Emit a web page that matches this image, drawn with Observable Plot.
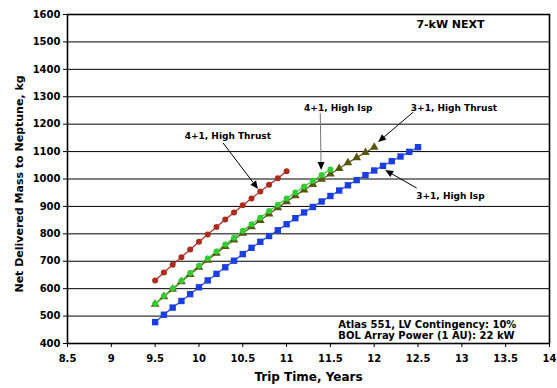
<!DOCTYPE html>
<html>
<head>
<meta charset="utf-8">
<script src="https://cdn.jsdelivr.net/npm/d3@7"></script>
<script src="https://cdn.jsdelivr.net/npm/@observablehq/plot@0.6"></script>
<style>
  body { margin: 0; background: #fff; }
  #chart svg { display: block; }
</style>
</head>
<body>
<div id="chart"></div>
<script>
// Trip time grid (years) shared by all four cases
const tripTime = [9.5, 9.6, 9.7, 9.8, 9.9, 10.0, 10.1, 10.2, 10.3, 10.4, 10.5,
  10.6, 10.7, 10.8, 10.9, 11.0, 11.1, 11.2, 11.3, 11.4, 11.5, 11.6, 11.7, 11.8,
  11.9, 12.0, 12.1, 12.2, 12.3, 12.4, 12.5];

// Net delivered mass (kg) per case
const highThrust41 = [630, 659, 687, 715, 743, 771, 798, 825, 852, 878, 904, 929,
  954, 979, 1003, 1028];
const highIsp41 = [545, 573, 601, 629, 657, 684, 710, 736, 761, 786, 811, 835, 859,
  883, 906, 929, 951, 973, 994, 1015, 1035];
const highThrust31 = [543, 571, 598, 625, 652, 678, 704, 729, 754, 778, 802, 826,
  849, 872, 895, 917, 939, 960, 980, 999, 1018, 1038, 1059, 1078, 1097, 1116];
const highIsp31 = [478, 505, 531, 555, 580, 605, 630, 654, 678, 702, 726, 749, 771,
  792, 813, 835, 857, 878, 898, 918, 938, 958, 977, 996, 1014, 1031, 1048, 1065,
  1082, 1099, 1116];

const seriesNames = ["3+1, High Isp", "3+1, High Thrust", "4+1, High Isp", "4+1, High Thrust"];
const seriesValues = [highIsp31, highThrust31, highIsp41, highThrust41];

// Axis ticks
const xTicks = [8.5, 9, 9.5, 10, 10.5, 11, 11.5, 12, 12.5, 13, 13.5, 14];
const yTicks = [400, 500, 600, 700, 800, 900, 1000, 1100, 1200, 1300, 1400, 1500, 1600];

// Callout labels and arrows, in data units
const callouts = [
  {text: "4+1, High Thrust", x: 10.33, y: 1158},
  {text: "4+1, High Isp", x: 11.59, y: 1260},
  {text: "3+1, High Thrust", x: 12.91, y: 1260},
  {text: "3+1, High Isp", x: 12.87, y: 936}
];
const arrows = [
  {x1: 10.28, y1: 1130, x2: 10.68, y2: 962, color: "#000"},
  {x1: 11.39, y1: 1239, x2: 11.40, y2: 1031, color: "#777"},
  {x1: 12.45, y1: 1242, x2: 12.05, y2: 1133, color: "#000"},
  {x1: 12.49, y1: 965, x2: 12.13, y2: 1031, color: "#000"}
];
const notes = [
  {text: "Atlas 551, LV Contingency: 10%", x: 11.59, y: 469},
  {text: "BOL Array Power (1 AU): 22 kW", x: 11.59, y: 428}
];
const engineLabel = {text: "7-kW NEXT", x: 12.87, y: 1562};

const colors = {
  "3+1, High Isp": "#1a3ee0",
  "3+1, High Thrust": "#56560c",
  "4+1, High Isp": "#33cc33",
  "4+1, High Thrust": "#ae2a1c"
};
const symbols = {
  "3+1, High Isp": "square",
  "3+1, High Thrust": "triangle",
  "4+1, High Isp": "circle",
  "4+1, High Thrust": "circle"
};
const sizes = {
  "3+1, High Isp": 3.6,
  "3+1, High Thrust": 2.9,
  "4+1, High Isp": 2.5,
  "4+1, High Thrust": 2.5
};

const rows = seriesNames.flatMap((name, i) =>
  seriesValues[i].map((v, j) => ({series: name, time: tripTime[j], mass: v})));

// Arrows with filled heads, placed through the plot's own scales
function calloutArrows(index, scales) {
  const sx = scales.x, sy = scales.y;
  const g = d3.create("svg:g").attr("aria-label", "callout arrows");
  for (const a of arrows) {
    const x1 = sx(a.x1), y1 = sy(a.y1), x2 = sx(a.x2), y2 = sy(a.y2);
    const ang = Math.atan2(y2 - y1, x2 - x1);
    const L = 8, W = 3.5;
    const bx = x2 - L * Math.cos(ang), by = y2 - L * Math.sin(ang);
    g.append("line")
      .attr("x1", x1).attr("y1", y1).attr("x2", bx).attr("y2", by)
      .attr("stroke", a.color).attr("stroke-width", 1);
    g.append("polygon")
      .attr("points", [
        [x2, y2],
        [bx + W * Math.sin(ang), by - W * Math.cos(ang)],
        [bx - W * Math.sin(ang), by + W * Math.cos(ang)]
      ].map(p => p.join(",")).join(" "))
      .attr("fill", "#000");
  }
  return g.node();
}

const chart = Plot.plot({
  width: 557,
  height: 388,
  marginLeft: 67,
  marginRight: 8,
  marginTop: 14,
  marginBottom: 45,
  style: {fontFamily: "'DejaVu Sans', Verdana, sans-serif", fontSize: "10px", fontWeight: "bold", color: "#000", background: "#fff"},
  x: {domain: [8.5, 14]},
  y: {domain: [400, 1600]},
  marks: [
    Plot.gridY(yTicks.slice(1, -1), {stroke: "#000", strokeOpacity: 1, strokeWidth: 1}),
    Plot.axisX(xTicks, {tickSize: 4, tickPadding: 7, tickFormat: d => String(d), label: null}),
    Plot.axisY(yTicks, {tickSize: 4, tickPadding: 3, tickFormat: d => String(d), label: null}),
    Plot.text(["Trip Time, Years"], {frameAnchor: "bottom", dy: 37, fontSize: 12, fontWeight: "bold"}),
    Plot.text(["Net Delivered Mass to Neptune, kg"], {frameAnchor: "left", textAnchor: "middle", dx: -48, dy: 5, rotate: -90, fontSize: 11, fontWeight: "bold"}),
    Plot.line(rows, {x: "time", y: "mass", z: "series", stroke: d => colors[d.series], strokeWidth: 1.2}),
    Plot.dot(rows, {x: "time", y: "mass", symbol: d => symbols[d.series], r: d => sizes[d.series], fill: d => colors[d.series], stroke: "none"}),
    Plot.text(callouts, {x: "x", y: "y", text: "text", fontSize: 9, fontWeight: "bold", fill: "#000"}),
    calloutArrows,
    Plot.text([engineLabel], {x: "x", y: "y", text: "text", fontSize: 11, fontWeight: "bold", fill: "#000"}),
    Plot.text(notes, {x: "x", y: "y", text: "text", textAnchor: "start", fontSize: 10, fontWeight: "bold", fill: "#000"}),
    Plot.frame({stroke: "#000", strokeWidth: 1.6})
  ]
});

document.getElementById("chart").append(chart);
</script>
</body>
</html>
